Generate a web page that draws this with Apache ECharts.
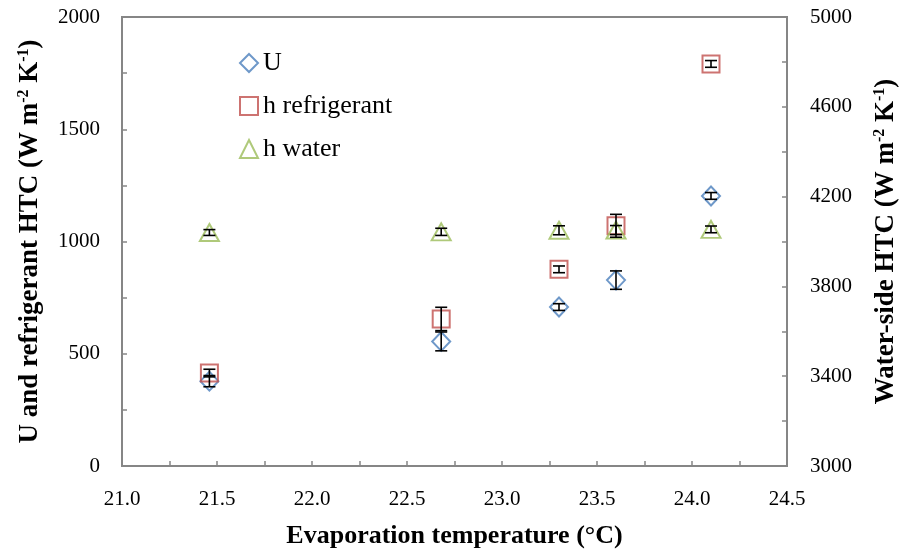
<!DOCTYPE html>
<html>
<head>
<meta charset="utf-8">
<script src="https://cdn.jsdelivr.net/npm/echarts@6/dist/echarts.min.js"></script>
<style>
  html, body { margin: 0; padding: 0; background: #fff; }
  #chart { width: 902px; height: 554px; }
</style>
</head>
<body>
<div id="chart"></div>
<script>
// evaporation temperatures (°C)
const temps = [21.46, 22.68, 23.30, 23.60, 24.10]
// overall U and refrigerant-side HTC, left axis
const uValues = [378, 555, 708, 828, 1203]
const uErrors = [25, 42, 15, 41, 15]
const hRefValues = [414, 655, 876, 1070, 1791]
const hRefErrors = [17, 52, 15, 51, 15]
// water-side HTC, right axis
const hWaterValues = [4040, 4043, 4050, 4051, 4054]
const hWaterErrors = [13, 16, 20, 20, 15]

const xTicks = { min: 21.0, max: 24.5, step: 0.5 }
const leftTicks = { min: 0, max: 2000, step: 500 }
const rightTicks = { min: 3000, max: 5000, step: 400 }

// the right axis starts at 3000, which is not a multiple of 400,
// so it is drawn as an offset scale from 0 and labelled with the base added back
const waterBase = rightTicks.min

const FONT = 'Liberation Serif'
const axisGrey = '#868686'
const TITLE_SIZE = 27

const pts = (ys) => temps.map((t, i) => [t, ys[i]])
const bars = (ys, errs, base = 0) => temps.map((t, i) => [t, ys[i] - errs[i] - base, ys[i] + errs[i] - base])

const errorBarSeries = (data, yAxisIndex) => ({
  type: 'custom',
  yAxisIndex,
  z: 5,
  silent: true,
  data,
  renderItem: (params, api) => {
    const lo = api.coord([api.value(0), api.value(1)])
    const hi = api.coord([api.value(0), api.value(2)])
    const half = 6
    const style = { stroke: '#000', lineWidth: 1.6 }
    return {
      type: 'group',
      children: [
        { type: 'line', shape: { x1: lo[0], y1: lo[1], x2: hi[0], y2: hi[1] }, style },
        { type: 'line', shape: { x1: lo[0] - half, y1: lo[1], x2: lo[0] + half, y2: lo[1] }, style },
        { type: 'line', shape: { x1: hi[0] - half, y1: hi[1], x2: hi[0] + half, y2: hi[1] }, style },
      ],
    }
  },
})

const hollow = (color) => ({ color: 'transparent', borderColor: color, borderWidth: 2 })

const chart = echarts.init(document.getElementById('chart'))

const valueAxisCommon = {
  type: 'value',
  nameLocation: 'middle',
  nameRotate: 90,
  axisLine: { show: true, lineStyle: { color: axisGrey, width: 2 } },
  axisTick: { show: true, inside: true, length: 5, lineStyle: { color: axisGrey, width: 1.5 } },
  minorTick: { show: true, splitNumber: 2, length: 5, lineStyle: { color: axisGrey, width: 1.5 } },
  splitLine: { show: false },
  axisLabel: { fontFamily: FONT, fontSize: 21, color: '#000', formatter: (v) => String(v) },
}

const supRich = {
  b: { fontFamily: FONT, fontSize: TITLE_SIZE, fontWeight: 'bold', color: '#000' },
  sup: { fontFamily: FONT, fontSize: 16, fontWeight: 'bold', color: '#000', padding: [0, 0, 12, 0] },
}

chart.setOption({
  backgroundColor: '#fff',
  animation: false,
  grid: {
    left: 122, right: 115, top: 17, bottom: 88,
    outerBoundsMode: 'none',
    containLabel: false,
    show: true, borderColor: axisGrey, borderWidth: 2,
  },
  legend: {
    orient: 'vertical',
    left: 239,
    top: 50,
    padding: 0,
    itemWidth: 18,
    itemHeight: 18,
    itemGap: 17,
    textStyle: { fontFamily: FONT, fontSize: 26, color: '#000' },
    data: [
      { name: 'U', icon: 'diamond' },
      { name: 'h refrigerant', icon: 'rect' },
      { name: 'h water', icon: 'triangle' },
    ],
  },
  xAxis: {
    type: 'value',
    min: xTicks.min,
    max: xTicks.max,
    interval: xTicks.step,
    name: 'Evaporation temperature (°C)',
    nameLocation: 'middle',
    nameGap: 57,
    nameTextStyle: { fontFamily: FONT, fontSize: 26, fontWeight: 'bold', color: '#000' },
    axisLine: { show: true, onZero: false, lineStyle: { color: axisGrey, width: 2 } },
    axisTick: { show: true, inside: true, length: 5, lineStyle: { color: axisGrey, width: 1.5 } },
    minorTick: { show: true, splitNumber: 2, length: 5, lineStyle: { color: axisGrey, width: 1.5 } },
    splitLine: { show: false },
    axisLabel: {
      fontFamily: FONT, fontSize: 21, color: '#000', margin: 23,
      formatter: (v) => v.toFixed(1),
    },
  },
  yAxis: [
    {
      ...valueAxisCommon,
      position: 'left',
      min: leftTicks.min,
      max: leftTicks.max,
      interval: leftTicks.step,
      name: '{b|U and refrigerant HTC (W m}{sup|-2}{b| K}{sup|-1}{b|)}',
      nameGap: 78,
      nameTextStyle: { rich: supRich },
      axisLabel: { ...valueAxisCommon.axisLabel, margin: 22 },
    },
    {
      ...valueAxisCommon,
      position: 'right',
      min: rightTicks.min - waterBase,
      max: rightTicks.max - waterBase,
      interval: rightTicks.step,
      name: '{b|Water-side HTC (W m}{sup|-2}{b| K}{sup|-1}{b|)}',
      nameGap: 85,
      nameTextStyle: { rich: supRich },
      axisLabel: { ...valueAxisCommon.axisLabel, margin: 23, formatter: (v) => String(v + waterBase) },
    },
  ],
  series: [
    {
      name: 'U',
      type: 'scatter',
      symbol: 'diamond',
      symbolSize: [18, 19],
      itemStyle: hollow('#4a7ebb'),
      z: 3,
      data: pts(uValues),
    },
    {
      name: 'h refrigerant',
      type: 'scatter',
      symbol: 'rect',
      symbolSize: 17,
      itemStyle: hollow('#c0504d'),
      z: 3,
      data: pts(hRefValues),
    },
    {
      name: 'h water',
      type: 'scatter',
      symbol: 'triangle',
      symbolSize: [19, 17],
      yAxisIndex: 1,
      itemStyle: hollow('#9bbb59'),
      z: 3,
      data: pts(hWaterValues.map((v) => v - waterBase)),
    },
    errorBarSeries(bars(uValues, uErrors), 0),
    errorBarSeries(bars(hRefValues, hRefErrors), 0),
    errorBarSeries(bars(hWaterValues, hWaterErrors, waterBase), 1),
  ],
})
</script>
</body>
</html>
